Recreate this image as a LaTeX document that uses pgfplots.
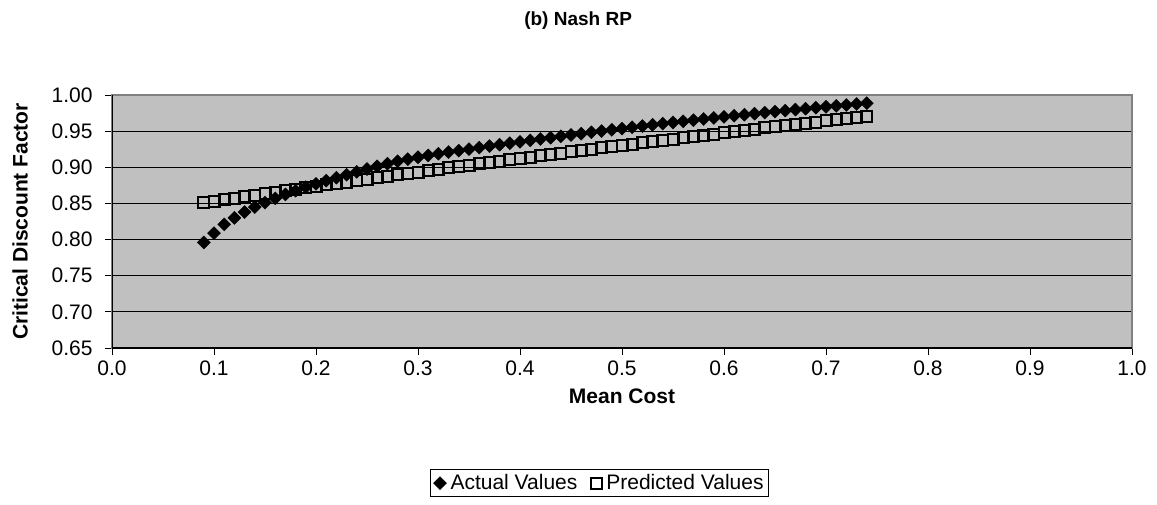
\documentclass[border=0pt]{standalone}
\usepackage{fontspec}
\setmainfont{Liberation Sans}
\usepackage{pgfplots}
\pgfplotsset{compat=1.18}
\definecolor{plotbg}{HTML}{C0C0C0}
\definecolor{framegray}{HTML}{808080}
\newcommand{\fs}{\fontsize{21}{25}\selectfont}
\begin{document}
\begin{tikzpicture}
\useasboundingbox (0,0) rectangle (1157pt,504pt);
\begin{axis}[
  at={(112pt,156pt)}, anchor=south west,
  width=1020pt, height=253pt, scale only axis,
  xmin=0, xmax=1, ymin=0.65, ymax=1.0,
  xtick={0,0.1,...,1.0}, ytick={0.65,0.70,0.75,0.80,0.85,0.90,0.95,1.00},
  xtick pos=left, ytick pos=left,
  tick align=outside, major tick length=7pt,
  tick style={black, line width=1pt},
  xticklabel style={yshift=-2pt, /pgf/number format/.cd, fixed, fixed zerofill, precision=1, assume math mode=true},
  yticklabel style={xshift=-9pt, /pgf/number format/.cd, fixed, fixed zerofill, precision=2, assume math mode=true},
  tick label style={font=\fs},
  axis background/.style={fill=plotbg},
  axis line style={framegray, line width=2pt},
  ymajorgrids, grid style={black, line width=1pt},
  title={\textbf{(b) Nash RP}},
  title style={font=\fontsize{19}{23}\selectfont, at={(rel axis cs:0.457,1.27)}, anchor=center},
  xlabel={\textbf{Mean Cost}},
  xlabel style={font=\fs, at={(rel axis cs:0.5,-0.19)}, anchor=center},
  ylabel={\textbf{Critical Discount Factor}},
  ylabel style={font=\fs, at={(rel axis cs:-0.090,0.5)}, anchor=center},
  legend columns=-1,
  legend style={font=\fs, at={(rel axis cs:0.478,-0.534)}, anchor=center,
    draw=black, line width=0.8pt, inner sep=3pt,
    /tikz/every odd column/.append style={column sep=2pt},
    /tikz/every even column/.append style={column sep=12pt}},
]
\addplot[only marks, mark=square*, mark size=4.6pt,
  mark options={rotate=45, fill=black, draw=black, line width=0.4pt}] coordinates {
(0.09,0.796) (0.10,0.809) (0.11,0.821) (0.12,0.830) (0.13,0.838) (0.14,0.845)
(0.15,0.851) (0.16,0.857) (0.17,0.8625) (0.18,0.8676) (0.19,0.8725) (0.20,0.877)
(0.21,0.8814) (0.22,0.8856) (0.23,0.8897) (0.24,0.8937) (0.25,0.8976) (0.26,0.9014)
(0.27,0.905) (0.28,0.9083) (0.29,0.9112) (0.30,0.9139) (0.31,0.9164) (0.32,0.9188)
(0.33,0.921) (0.34,0.9231) (0.35,0.9252) (0.36,0.9272) (0.37,0.9293) (0.38,0.9313)
(0.39,0.9333) (0.40,0.9352) (0.41,0.9372) (0.42,0.9391) (0.43,0.941) (0.44,0.9429)
(0.45,0.9447) (0.46,0.9465) (0.47,0.9484) (0.48,0.9501) (0.49,0.9519) (0.50,0.9536)
(0.51,0.9554) (0.52,0.957) (0.53,0.9587) (0.54,0.9604) (0.55,0.962) (0.56,0.9636)
(0.57,0.9652) (0.58,0.9668) (0.59,0.9683) (0.60,0.9698) (0.61,0.9713) (0.62,0.9728)
(0.63,0.9742) (0.64,0.9756) (0.65,0.977) (0.66,0.9784) (0.67,0.9798) (0.68,0.9811)
(0.69,0.9824) (0.70,0.9837) (0.71,0.985) (0.72,0.9862) (0.73,0.9875) (0.74,0.9887)
};
\addlegendentry{Actual Values}
\addplot[only marks, mark=square, mark size=5.5pt,
  mark options={draw=black, line width=2pt}] coordinates {
(0.09,0.851) (0.10,0.8531) (0.11,0.8552) (0.12,0.8573) (0.13,0.8593) (0.14,0.8614)
(0.15,0.8635) (0.16,0.8655) (0.17,0.8675) (0.18,0.8696) (0.19,0.8716) (0.20,0.8736)
(0.21,0.8756) (0.22,0.8776) (0.23,0.8796) (0.24,0.8816) (0.25,0.8836) (0.26,0.8855)
(0.27,0.8875) (0.28,0.8895) (0.29,0.8914) (0.30,0.8933) (0.31,0.8953) (0.32,0.8972)
(0.33,0.8991) (0.34,0.901) (0.35,0.9029) (0.36,0.9048) (0.37,0.9067) (0.38,0.9085)
(0.39,0.9104) (0.40,0.9123) (0.41,0.9141) (0.42,0.9159) (0.43,0.9178) (0.44,0.9196)
(0.45,0.9214) (0.46,0.9232) (0.47,0.925) (0.48,0.9268) (0.49,0.9286) (0.50,0.9304)
(0.51,0.9321) (0.52,0.9339) (0.53,0.9357) (0.54,0.9374) (0.55,0.9391) (0.56,0.9409)
(0.57,0.9426) (0.58,0.9443) (0.59,0.946) (0.60,0.9477) (0.61,0.9494) (0.62,0.9511)
(0.63,0.9527) (0.64,0.9544) (0.65,0.9561) (0.66,0.9577) (0.67,0.9593) (0.68,0.961)
(0.69,0.9626) (0.70,0.9642) (0.71,0.9658) (0.72,0.9674) (0.73,0.969) (0.74,0.9706)
};
\addlegendentry{Predicted Values}
\draw[black, line width=2pt] (rel axis cs:0,1) -- (rel axis cs:0,0) -- (rel axis cs:1,0);
\end{axis}
\end{tikzpicture}
\end{document}
